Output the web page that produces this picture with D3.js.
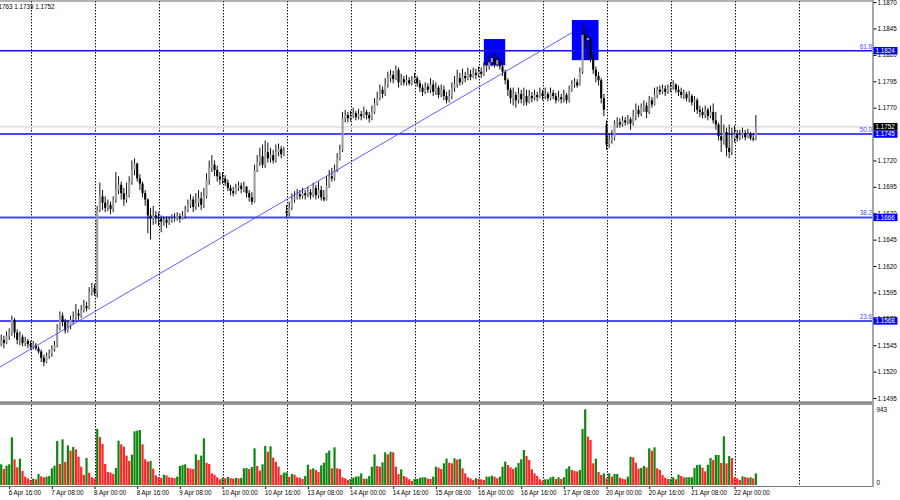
<!DOCTYPE html>
<html>
<head>
<meta charset="utf-8">
<script src="https://cdn.jsdelivr.net/npm/d3@7"></script>
<style>
  body { margin: 0; background: #fff; }
  svg { display: block; font-family: "Liberation Sans", Arial, sans-serif; }
</style>
</head>
<body>
<div id="chart"></div>
<script>
// H1 bars, 6 Apr 13:00 .. 22 Apr 08:00, prices in points (x 0.0001)
var closes = [
  11550,11547,11554,11557,11569,11557,11550,11553,11547,11549,11546,
  11544,11545,11542,11539,11533,11529,11535,11537,11541,11545,11561,11573,11567,11559,11563,11569,11571,11575,11573,11578,11582,11580,11595,11599,
  11595,11673,11686,11680,11675,11678,11674,11683,11692,11697,11689,11683,11687,11700,11711,11717,11703,11698,11689,11683,11668,11665,11668,11666,
  11665,11662,11664,11661,11663,11665,11665,11667,11665,11668,11673,11678,11683,11676,11680,11684,11678,11686,11702,11713,11716,11711,11705,11702,
  11703,11699,11694,11691,11689,11694,11696,11693,11695,11689,11685,11681,11711,11719,11724,11716,11728,11722,11725,11720,11728,11731,11726,11729,
  11670,11675,11683,11685,11688,11686,11689,11687,11690,11687,11694,11687,11692,11685,11683,11696,11705,11703,11711,11722,11730,11760,11763,11760,
  11762,11765,11761,11764,11762,11766,11763,11760,11766,11774,11779,11787,11783,11792,11798,11801,11797,11806,11794,11797,11794,11796,11793,11796,
  11798,11793,11789,11785,11790,11787,11792,11785,11789,11782,11787,11781,11777,11781,11789,11792,11798,11794,11800,11798,11802,11799,11803,11801,
  11804,11802,11808,11809,11813,11817,11811,11815,11809,11804,11796,11787,11779,11782,11777,11783,11778,11781,11775,11781,11779,11782,11780,11784,
  11781,11783,11779,11784,11781,11777,11780,11778,11782,11777,11787,11792,11794,11791,11804,11839,11834,11836,11817,11806,11800,11796,11779,11768,
  11735,11739,11741,11755,11756,11754,11758,11756,11759,11755,11762,11768,11764,11770,11772,11766,11777,11773,11782,11787,11785,11788,11785,11788,
  11790,11792,11787,11785,11782,11783,11779,11781,11775,11777,11768,11766,11763,11768,11762,11766,11758,11754,11743,11739,11747,11732,11728,11741,
  11745,11741,11744,11746,11742,11745,11741,11740,11752
];
var highs = [
  11555,11554,11558,11561,11573,11571,11560,11558,11555,11553,11551,
  11549,11549,11547,11544,11541,11536,11538,11541,11545,11549,11565,11577,11576,11570,11569,11573,11577,11584,11579,11583,11588,11586,11600,11604,
  11603,11677,11699,11692,11686,11683,11681,11686,11709,11705,11700,11694,11699,11705,11720,11722,11718,11707,11700,11692,11684,11675,11677,11672,
  11671,11668,11667,11667,11667,11669,11670,11671,11670,11672,11677,11683,11688,11686,11689,11692,11690,11694,11708,11720,11725,11720,11715,11709,
  11709,11706,11702,11697,11695,11698,11700,11699,11700,11696,11692,11690,11716,11725,11732,11735,11739,11737,11732,11730,11735,11736,11734,11733,
  11678,11681,11689,11691,11693,11692,11694,11692,11695,11693,11699,11697,11700,11696,11692,11705,11711,11713,11716,11727,11735,11766,11768,11766,
  11767,11770,11767,11769,11767,11771,11768,11766,11772,11779,11785,11792,11790,11798,11804,11806,11805,11810,11808,11802,11800,11801,11799,11800,
  11803,11800,11796,11792,11794,11793,11798,11796,11794,11791,11792,11791,11785,11787,11794,11800,11806,11803,11807,11804,11808,11806,11808,11807,
  11809,11808,11813,11815,11819,11821,11823,11820,11817,11812,11806,11798,11789,11789,11785,11789,11787,11789,11787,11787,11785,11787,11785,11789,
  11787,11789,11785,11789,11787,11784,11786,11783,11787,11784,11791,11796,11798,11797,11808,11851,11845,11844,11838,11820,11809,11804,11798,11783,
  11758,11746,11749,11758,11761,11760,11762,11761,11763,11761,11768,11774,11772,11774,11777,11775,11781,11780,11789,11790,11791,11792,11791,11792,
  11794,11796,11793,11791,11789,11787,11785,11786,11783,11781,11779,11772,11770,11772,11770,11772,11774,11766,11756,11763,11754,11751,11754,11751,
  11753,11749,11749,11751,11749,11750,11747,11746,11763
];
var lows = [
  11544,11542,11546,11550,11554,11552,11546,11545,11544,11544,11542,
  11541,11541,11540,11537,11529,11525,11528,11532,11534,11539,11543,11559,11563,11556,11557,11560,11565,11569,11569,11571,11576,11577,11579,11592,
  11592,11590,11671,11673,11671,11672,11669,11671,11680,11688,11683,11677,11680,11685,11697,11706,11700,11692,11685,11677,11651,11645,11659,11660,
  11658,11652,11658,11656,11659,11661,11662,11663,11661,11664,11665,11671,11675,11671,11673,11676,11673,11675,11684,11697,11709,11705,11700,11697,
  11698,11696,11691,11687,11686,11688,11691,11689,11690,11685,11681,11678,11680,11709,11715,11713,11713,11718,11718,11717,11718,11724,11722,11724,
  11666,11667,11673,11680,11683,11683,11684,11683,11685,11683,11685,11683,11684,11682,11681,11682,11694,11700,11701,11709,11720,11728,11756,11756,
  11757,11760,11758,11759,11758,11760,11759,11756,11758,11764,11772,11777,11779,11781,11789,11794,11793,11796,11789,11791,11791,11791,11791,11791,
  11793,11790,11785,11781,11783,11784,11784,11781,11782,11779,11780,11777,11774,11775,11778,11785,11789,11791,11792,11794,11796,11796,11798,11797,
  11799,11798,11800,11804,11806,11809,11808,11809,11806,11800,11792,11781,11774,11772,11770,11774,11774,11772,11772,11774,11775,11777,11776,11779,
  11777,11778,11776,11777,11778,11774,11776,11774,11775,11774,11775,11785,11789,11789,11791,11802,11827,11815,11813,11802,11794,11791,11774,11762,
  11730,11732,11736,11739,11751,11751,11752,11753,11754,11749,11753,11758,11761,11762,11766,11760,11764,11770,11772,11779,11782,11783,11781,11783,
  11785,11787,11784,11781,11779,11778,11776,11775,11772,11766,11764,11761,11760,11760,11758,11760,11755,11749,11739,11728,11735,11724,11722,11725,
  11737,11738,11739,11741,11739,11741,11739,11738,11739
];
// bars that open away from the previous close (first bar, weekend gaps)
var sessionOpens = [[0, 11546], [107, 11672], [227, 11754]];

var volumes = [
  258,199,241,258,594,320,220,328,174,104,83,
  62,79,71,137,108,96,104,112,208,241,548,262,569,287,494,428,474,444,353,228,125,336,154,96,
  83,698,598,511,262,162,154,137,212,552,507,478,366,299,378,669,677,685,507,320,291,299,204,120,
  96,87,129,120,96,91,87,104,237,249,258,212,204,199,382,312,366,582,278,262,145,129,96,71,
  91,83,100,87,79,87,83,87,208,212,199,224,457,237,179,258,486,415,482,341,287,228,125,154,
  158,104,137,129,96,91,75,112,253,195,208,187,162,245,278,399,428,208,469,208,199,96,83,62,
  75,91,104,108,145,79,79,112,228,382,237,228,282,407,382,415,407,228,137,195,112,96,71,50,
  75,75,91,96,96,79,75,104,228,216,199,270,328,278,270,332,316,324,208,145,96,83,62,83,
  75,71,62,104,104,116,104,83,104,228,291,249,220,199,220,274,320,436,361,312,195,145,112,71,
  54,71,71,96,104,75,96,75,96,204,233,187,174,170,187,698,943,602,561,270,328,162,125,145,
  83,145,104,137,137,91,79,71,104,353,345,278,204,212,237,220,457,428,469,208,187,125,91,75,
  75,96,71,129,112,96,96,96,96,212,249,253,216,170,253,336,312,374,374,274,606,270,361,336,
  96,83,62,108,100,91,96,83,145
];

var dayStarts = [11, 35, 59, 83, 107, 131, 155, 179, 203, 227, 251, 275, 299];
var timeTicks = [3, 19, 35, 51, 67, 83, 99, 115, 131, 147, 163, 179, 195, 211, 227, 243, 259, 275];
var timeLabels = ["6 Apr 16:00", "7 Apr 08:00", "8 Apr 00:00", "8 Apr 16:00", "9 Apr 08:00",
  "10 Apr 00:00", "10 Apr 16:00", "13 Apr 08:00", "14 Apr 00:00", "14 Apr 16:00", "15 Apr 08:00",
  "16 Apr 00:00", "16 Apr 16:00", "17 Apr 08:00", "20 Apr 00:00", "20 Apr 16:00", "21 Apr 08:00", "22 Apr 00:00"];
var priceTicks = [1.1870, 1.1845, 1.1820, 1.1795, 1.1770, 1.1745, 1.1720, 1.1695, 1.1670,
  1.1645, 1.1620, 1.1595, 1.1570, 1.1545, 1.1520, 1.1495];
var volumeTicks = [0, 943];

var fiboNames = ["61.8", "50.0", "38.2", "23.6"];
var fiboPrices = [1.1824, 1.1745, 1.1666, 1.1568];
var bidPrice = 1.1752;
var trendBars = [0, 214];
var trendPrices = [1.1525, 1.1841];
var boxBars = [[181, 189], [214, 224]];
var boxPrices = [[1.1835, 1.1810], [1.1853, 1.1815]];
var infoText = "1.1740 1.1763 1.1739 1.1752";

// ---------------------------------------------------------------
var svgWidth = 900, svgHeight = 500;
var axisX = 873;
var mainTop = 1, mainBottom = 402;
var volTop = 405, volBottom = 486;
var fontSize = "6.3px";

var svg = d3.select("#chart").append("svg")
  .attr("width", svgWidth)
  .attr("height", svgHeight);

svg.append("rect").attr("width", svgWidth).attr("height", svgHeight).attr("fill", "#fff");

var x = d3.scaleLinear()
  .domain([0, closes.length - 1])
  .range([1.2, 1.2 + (closes.length - 1) * 8 / 3]);
var y = d3.scaleLinear().domain([1.1495, 1.1870]).range([398, 2.1]);
var yVol = d3.scaleLinear().domain([0, 943]).range([485, 409.3]);

var pt = function(v) { return v / 10000; };

var opens = closes.map(function(c, i) { return i === 0 ? c : closes[i - 1]; });
sessionOpens.forEach(function(s) { opens[s[0]] = s[1]; });

var bars = closes.map(function(c, i) {
  return { i: i, o: pt(opens[i]), h: pt(highs[i]), l: pt(lows[i]), c: pt(c), v: volumes[i] };
});

var defs = svg.append("defs");
defs.append("clipPath").attr("id", "clipMain")
  .append("rect").attr("x", 0).attr("y", mainTop).attr("width", axisX).attr("height", mainBottom - mainTop);
defs.append("clipPath").attr("id", "clipVol")
  .append("rect").attr("x", 0).attr("y", volTop).attr("width", axisX).attr("height", volBottom - volTop);

var main = svg.append("g").attr("clip-path", "url(#clipMain)");
var vol = svg.append("g").attr("clip-path", "url(#clipVol)");

// vertical dotted day grid, both panels
function drawGrid(g, y1, y2) {
  g.selectAll("line.grid")
    .data(dayStarts)
    .enter().append("line")
      .attr("class", "grid")
      .attr("x1", function(d) { return Math.round(x(d)) + 0.5; })
      .attr("x2", function(d) { return Math.round(x(d)) + 0.5; })
      .attr("y1", y1).attr("y2", y2)
      .attr("stroke", "#111")
      .attr("stroke-width", 1)
      .attr("stroke-dasharray", "1.5,1.5");
}
drawGrid(main, mainTop, mainBottom);
drawGrid(vol, volTop, volBottom);

// bid line
main.append("line")
  .attr("x1", 0).attr("x2", axisX)
  .attr("y1", y(bidPrice)).attr("y2", y(bidPrice))
  .attr("stroke", "#e4e4e4").attr("stroke-width", 2);

// rectangles (background objects)
main.selectAll("rect.box")
  .data(boxBars)
  .enter().append("rect")
    .attr("class", "box")
    .attr("x", function(d) { return x(d[0]); })
    .attr("width", function(d) { return x(d[1]) - x(d[0]); })
    .attr("y", function(d, i) { return y(boxPrices[i][0]); })
    .attr("height", function(d, i) { return y(boxPrices[i][1]) - y(boxPrices[i][0]); })
    .attr("fill", "#0000ff");

// fibo levels
main.selectAll("line.level")
  .data(fiboPrices)
  .enter().append("line")
    .attr("class", "level")
    .attr("x1", 0).attr("x2", axisX)
    .attr("y1", function(d) { return y(d); })
    .attr("y2", function(d) { return y(d); })
    .attr("stroke", function(d, i) { return (i === 1 || i === 2) ? "#4646ff" : "#1010f0"; })
    .attr("stroke-width", function(d, i) { return (i === 1 || i === 2) ? 2 : 1.5; });

main.selectAll("text.levelName")
  .data(fiboNames)
  .enter().append("text")
    .attr("class", "levelName")
    .attr("x", axisX - 1)
    .attr("y", function(d, i) { return y(fiboPrices[i]) - 2; })
    .attr("text-anchor", "end")
    .attr("font-size", fontSize)
    .attr("fill", "#4a4aff")
    .text(function(d) { return d; });

// candles
var candle = main.selectAll("g.candle")
  .data(bars)
  .enter().append("g")
    .attr("class", "candle");

candle.append("line")
  .attr("x1", function(d) { return x(d.i); })
  .attr("x2", function(d) { return x(d.i); })
  .attr("y1", function(d) { return y(Math.max(d.h, d.o, d.c)); })
  .attr("y2", function(d) { return y(Math.min(d.l, d.o, d.c)); })
  .attr("stroke", "#111")
  .attr("stroke-width", 1);

candle.append("rect")
  .attr("x", function(d) { return x(d.i) - 1.05; })
  .attr("width", 2.1)
  .attr("y", function(d) { return y(Math.max(d.o, d.c)); })
  .attr("height", function(d) { return Math.max(1, y(Math.min(d.o, d.c)) - y(Math.max(d.o, d.c))); })
  .attr("fill", function(d) { return d.c >= d.o ? "#9e9e9e" : "#000"; });

// trend line
main.append("line")
  .attr("x1", 0)
  .attr("y1", y(trendPrices[0]) + (x(trendBars[0])) * (y(trendPrices[0]) - y(trendPrices[1])) / (x(trendBars[1]) - x(trendBars[0])))
  .attr("x2", x(trendBars[1]))
  .attr("y2", y(trendPrices[1]))
  .attr("stroke", "#4d4dff")
  .attr("stroke-width", 0.9);

// info text at top left (partly cut off)
svg.append("text")
  .attr("x", 54.5).attr("y", 8.6)
  .attr("text-anchor", "end")
  .attr("font-size", fontSize)
  .attr("fill", "#000")
  .text(infoText);

// volumes
vol.selectAll("rect.vol")
  .data(bars)
  .enter().append("rect")
    .attr("class", "vol")
    .attr("x", function(d) { return x(d.i) - 1.1; })
    .attr("width", 2.2)
    .attr("y", function(d) { return yVol(d.v); })
    .attr("height", function(d) { return yVol(0) - yVol(d.v); })
    .attr("fill", function(d, i) {
      return (i === 0 || d.v >= volumes[i - 1]) ? "#0f870f" : "#ff2424";
    });

// frames
svg.append("line").attr("x1", 0).attr("x2", axisX).attr("y1", 1).attr("y2", 1)
  .attr("stroke", "#666").attr("stroke-width", 1);
svg.append("rect").attr("x", 0).attr("y", mainBottom).attr("width", axisX).attr("height", 3)
  .attr("fill", "#9a9a9a");
svg.append("line").attr("x1", 0).attr("x2", axisX).attr("y1", mainBottom).attr("y2", mainBottom)
  .attr("stroke", "#6a6a6a").attr("stroke-width", 1);
svg.append("line").attr("x1", 0).attr("x2", axisX).attr("y1", volBottom + 0.5).attr("y2", volBottom + 0.5)
  .attr("stroke", "#777").attr("stroke-width", 1);
svg.append("line").attr("x1", axisX).attr("x2", axisX).attr("y1", 0).attr("y2", volBottom + 1)
  .attr("stroke", "#a6a6a6").attr("stroke-width", 2);

// price axis
var yAxis = d3.axisRight(y)
  .tickValues(priceTicks)
  .tickSize(3)
  .tickPadding(1)
  .tickFormat(d3.format(".4f"));

var yAxisG = svg.append("g")
  .attr("transform", "translate(" + (axisX + 0.5) + ",0)")
  .call(yAxis);
yAxisG.select(".domain").remove();
yAxisG.selectAll("text").attr("font-size", fontSize).attr("font-family", "Liberation Sans, Arial, sans-serif").attr("fill", "#000");
yAxisG.selectAll("line").attr("stroke", "#000");

// volume axis
var vAxis = d3.axisRight(yVol)
  .tickValues(volumeTicks)
  .tickSize(0)
  .tickPadding(3)
  .tickFormat(d3.format("d"));
var vAxisG = svg.append("g")
  .attr("transform", "translate(" + (axisX + 0.5) + ",0)")
  .call(vAxis);
vAxisG.select(".domain").remove();
vAxisG.selectAll("text").attr("font-size", fontSize).attr("font-family", "Liberation Sans, Arial, sans-serif").attr("fill", "#000");
vAxisG.selectAll(".tick").filter(function(d) { return d === 0; })
  .select("text").attr("y", -3);

// level price boxes
var levelBox = svg.selectAll("g.levelBox")
  .data(fiboPrices.map(function(p) { return { p: p, fill: "#0000ff" }; })
    .concat([{ p: bidPrice, fill: "#000" }]))
  .enter().append("g")
    .attr("class", "levelBox")
    .attr("transform", function(d) { return "translate(" + (axisX + 0.5) + "," + y(d.p) + ")"; });
levelBox.append("rect")
  .attr("x", 0).attr("y", -3.7).attr("width", 24).attr("height", 7.4)
  .attr("fill", function(d) { return d.fill; });
levelBox.append("text")
  .attr("x", 2).attr("y", 2.3)
  .attr("font-size", fontSize)
  .attr("fill", "#fff")
  .text(function(d) { return d3.format(".4f")(d.p); });

// time axis
var xAxis = d3.axisBottom(x)
  .tickValues(timeTicks)
  .tickSize(2)
  .tickPadding(1.8)
  .tickFormat(function(d, i) { return timeLabels[i]; });
var xAxisG = svg.append("g")
  .attr("transform", "translate(0," + (volBottom + 1) + ")")
  .call(xAxis);
xAxisG.select(".domain").remove();
xAxisG.selectAll("line").attr("stroke", "#000");
xAxisG.selectAll("text")
  .attr("text-anchor", "start")
  .attr("x", -1)
  .attr("font-size", fontSize)
  .attr("font-family", "Liberation Sans, Arial, sans-serif")
  .attr("fill", "#000");
</script>
</body>
</html>
